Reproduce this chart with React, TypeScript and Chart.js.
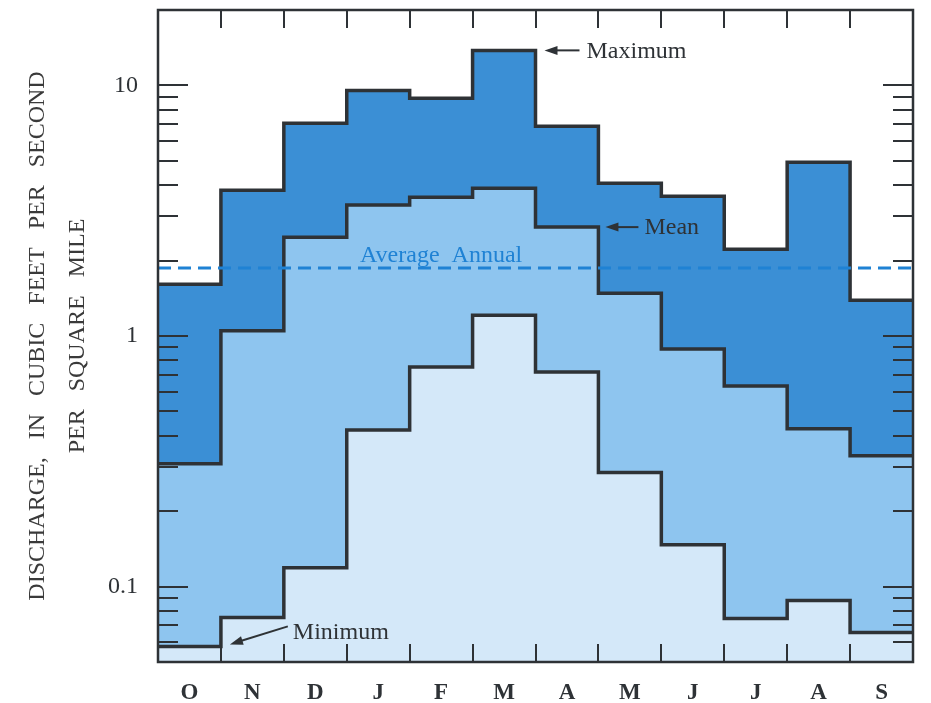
import React, { useEffect, useRef } from 'react';
import { Chart, registerables } from 'chart.js';

Chart.register(...registerables);

const MONTHS = ['O', 'N', 'D', 'J', 'F', 'M', 'A', 'M', 'J', 'J', 'A', 'S'];
const MAXIMUM = [1.61, 3.82, 7.06, 9.55, 8.88, 13.8, 6.87, 4.07, 3.61, 2.22, 4.94, 1.39];
const MEAN = [0.309, 1.05, 2.48, 3.33, 3.58, 3.89, 2.72, 1.48, 0.887, 0.632, 0.426, 0.333];
const MINIMUM = [0.0577, 0.0752, 0.119, 0.422, 0.752, 1.21, 0.719, 0.285, 0.147, 0.0746, 0.088, 0.0656];
const AVERAGE_ANNUAL = 1.87;
const Y_TICKS = [0.1, 1, 10];
const Y_MIN = 0.05;
const Y_MAX = 20;
const Y_TITLE = ['DISCHARGE,   IN   CUBIC   FEET   PER   SECOND', 'PER   SQUARE   MILE'];
const LABEL_MAX = 'Maximum';
const LABEL_MEAN = 'Mean';
const LABEL_MIN = 'Minimum';
const LABEL_AVG = 'Average  Annual';

const INK = '#2e3236';
const FILL_MAX = '#3b8fd5';
const FILL_MEAN = '#8ec5ef';
const FILL_MIN = '#d4e8f9';
const DASH = '#1f82d4';
const SERIF = '"Liberation Serif", "DejaVu Serif", serif';

function steps(values: number[]) {
  const pts = values.map((v, i) => ({ x: i, y: v }));
  pts.push({ x: values.length, y: values[values.length - 1] });
  return pts;
}

function arrow(ctx: CanvasRenderingContext2D, x1: number, y1: number, x2: number, y2: number) {
  const ang = Math.atan2(y2 - y1, x2 - x1);
  const c = Math.cos(ang);
  const s = Math.sin(ang);
  const hl = 13;
  const hw = 4.5;
  ctx.beginPath();
  ctx.moveTo(x1, y1);
  ctx.lineTo(x2 - hl * 0.8 * c, y2 - hl * 0.8 * s);
  ctx.stroke();
  ctx.beginPath();
  ctx.moveTo(x2, y2);
  ctx.lineTo(x2 - hl * c + hw * s, y2 - hl * s - hw * c);
  ctx.lineTo(x2 - hl * c - hw * s, y2 - hl * s + hw * c);
  ctx.closePath();
  ctx.fill();
}

const decorations = {
  id: 'decorations',
  afterDatasetsDraw(chart: any) {
    const { ctx, chartArea: a, scales } = chart;
    const x = scales.x;
    const y = scales.y;
    ctx.save();
    ctx.strokeStyle = INK;
    ctx.fillStyle = INK;
    ctx.lineWidth = 2;
    const seg = (x1: number, y1: number, x2: number, y2: number) => {
      ctx.beginPath();
      ctx.moveTo(x1, y1);
      ctx.lineTo(x2, y2);
      ctx.stroke();
    };
    for (let i = 1; i < MONTHS.length; i++) {
      const px = Math.round(x.getPixelForValue(i));
      seg(px, a.top, px, a.top + 18);
      seg(px, a.bottom, px, a.bottom - 18);
    }
    for (const d of [0.01, 0.1, 1, 10]) {
      for (let k = 1; k < 10; k++) {
        const v = k * d;
        if (v <= Y_MIN * 1.0001 || v >= Y_MAX * 0.9999) continue;
        const py = Math.round(y.getPixelForValue(v));
        const len = k === 1 ? 30 : 20;
        seg(a.left, py, a.left + len, py);
        seg(a.right, py, a.right - len, py);
      }
    }
    ctx.lineWidth = 2.5;
    ctx.strokeRect(a.left, a.top, a.right - a.left, a.bottom - a.top);

    // annotations
    ctx.lineWidth = 2;
    ctx.font = `24px ${SERIF}`;
    ctx.textBaseline = 'middle';
    ctx.textAlign = 'left';
    const yMax = y.getPixelForValue(MAXIMUM[5]);
    const b6 = x.getPixelForValue(6);
    arrow(ctx, b6 + 44, yMax, b6 + 9, yMax);
    ctx.fillText(LABEL_MAX, b6 + 51, yMax + 1);

    const yMean = y.getPixelForValue(MEAN[6]);
    const b7 = x.getPixelForValue(7);
    arrow(ctx, b7 + 40, yMean, b7 + 7, yMean);
    ctx.fillText(LABEL_MEAN, b7 + 46, yMean + 1);

    const yMin = y.getPixelForValue(MINIMUM[0]);
    const b1 = x.getPixelForValue(1);
    const b2 = x.getPixelForValue(2);
    arrow(ctx, b2 + 4, yMin - 20, b1 + 9, yMin - 2);
    ctx.fillText(LABEL_MIN, b2 + 9, yMin - 14);

    const yAvg = y.getPixelForValue(AVERAGE_ANNUAL);
    ctx.fillStyle = DASH;
    ctx.textAlign = 'center';
    ctx.textBaseline = 'alphabetic';
    ctx.fillText(LABEL_AVG, x.getPixelForValue(4.5), yAvg - 6);
    ctx.restore();
  },
};

export default function App() {
  const ref = useRef<HTMLCanvasElement | null>(null);
  useEffect(() => {
    document.body.style.margin = '0';
    const canvas = ref.current;
    if (!canvas) return;
    const lineDs = (label: string, data: number[], fill: string) => ({
      label,
      data: steps(data),
      stepped: 'before' as const,
      borderColor: INK,
      borderWidth: 3.5,
      backgroundColor: fill,
      fill: 'start',
      pointRadius: 0,
      borderJoinStyle: 'miter' as const,
      tension: 0,
    });
    const chart = new Chart(canvas, {
      type: 'line',
      data: {
        datasets: [
          {
            label: 'Average Annual',
            data: [
              { x: 0, y: AVERAGE_ANNUAL },
              { x: MONTHS.length, y: AVERAGE_ANNUAL },
            ],
            borderColor: DASH,
            borderWidth: 3,
            borderDash: [13, 7],
            pointRadius: 0,
            fill: false,
          },
          lineDs('Minimum', MINIMUM, FILL_MIN),
          lineDs('Mean', MEAN, FILL_MEAN),
          lineDs('Maximum', MAXIMUM, FILL_MAX),
        ] as any,
      },
      options: {
        animation: false,
        responsive: false,
        layout: { padding: { top: 10, right: 18, left: 0, bottom: 0 } },
        plugins: { legend: { display: false }, tooltip: { enabled: false } },
        scales: {
          x: {
            type: 'linear',
            min: 0,
            max: MONTHS.length,
            grid: { display: false },
            border: { display: false },
            afterBuildTicks: (scale: any) => {
              scale.ticks = MONTHS.map((_, i) => ({ value: i + 0.5 }));
            },
            afterFit: (scale: any) => {
              scale.height = 41;
              scale.paddingLeft = 0;
              scale.paddingRight = 0;
            },
            ticks: {
              autoSkip: false,
              maxRotation: 0,
              padding: 9,
              color: INK,
              font: { family: SERIF, size: 23, weight: 'bold' },
              callback: (_v: any, i: number) => MONTHS[i],
            },
          },
          y: {
            type: 'logarithmic',
            min: Y_MIN,
            max: Y_MAX,
            grid: { display: false },
            border: { display: false },
            afterBuildTicks: (scale: any) => {
              scale.ticks = Y_TICKS.map((v) => ({ value: v }));
            },
            afterFit: (scale: any) => {
              scale.width = 158;
              scale.paddingTop = 0;
              scale.paddingBottom = 0;
            },
            ticks: {
              padding: 12,
              color: INK,
              font: { family: SERIF, size: 24 },
              callback: (v: any) => String(v),
            },
            title: {
              display: true,
              text: Y_TITLE,
              color: '#3a3a3a',
              font: { family: SERIF, size: 24, lineHeight: 1.67 },
              padding: { top: 18, bottom: 0 },
            },
          },
        },
      } as any,
      plugins: [decorations],
    });
    return () => chart.destroy();
  }, []);
  return (
    <div style={{ width: 931, height: 703, background: '#fff' }}>
      <canvas ref={ref} width={931} height={703} style={{ display: 'block' }} />
    </div>
  );
}
